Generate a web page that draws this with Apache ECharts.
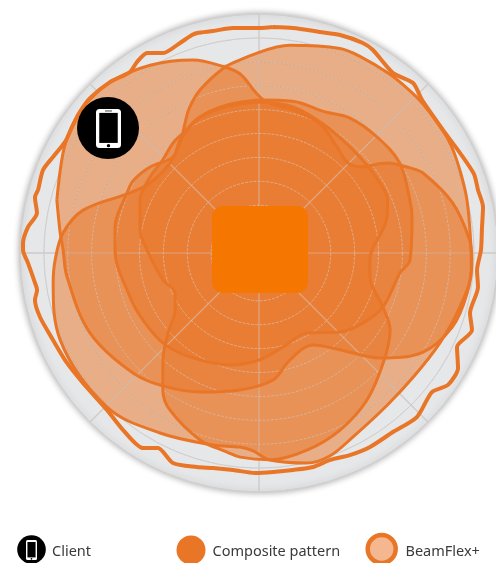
<!DOCTYPE html>
<html><head><meta charset="utf-8">
<style>html,body{margin:0;padding:0;background:#fff}#c{width:496px;height:563px}</style>
<script src="https://cdn.jsdelivr.net/npm/echarts@6/dist/echarts.min.js"></script>
</head><body><div id="c"></div>
<script>
// [angle in degrees counter-clockwise from east, gain]
const beamA = [[165.3,209],[153,220],[147,225],[140.8,228.5],[131.2,226.5],[120.1,217],[108.9,204],[100.9,190],[96,180],[91,160],[87,151],[76.6,147],[64.9,143],[53.7,131.6],[45.6,126.5],[40.4,133],[35.1,156.5],[29.4,173.3],[26,182.5],[14.5,200],[3.5,211],[358,213],[349,212],[339,207],[328.6,191],[319,160],[309.9,126],[300.4,106.7],[286,111.4],[276.3,127.8],[262,138.3],[247,151],[235.5,162.5],[223.6,174],[205.3,187],[187,193.5],[179,196],[174,200],[165.3,209]];
const beamB = [[95.6,194],[81.5,210],[68.4,220],[62.7,221],[54,221.5],[47.6,221.5],[42.4,221.5],[34.6,221],[28.8,220],[21.7,217],[14.3,214.6],[3.5,212],[355.5,213],[345,208],[333.6,202],[321.2,198],[310,199],[297,206.6],[289.2,215],[282.9,215.5],[273,207.3],[268.3,198],[264.4,195],[256.5,197.4],[241.2,205.4],[225.4,216.4],[203.6,217],[188.3,208],[182,204],[174.2,197],[166.3,181],[155,142.3],[147.3,129.5],[134.7,126.6],[125.7,135.4],[119.6,149.6],[115.9,160.3],[109.9,173.3],[101,188],[95.6,194]];
const beamC = [[90,151],[76.9,150],[61.6,143.2],[43.5,139.3],[30,139.8],[22.3,139],[15.7,133],[356.4,111.2],[347.8,113.6],[336.5,135],[329.6,152],[319.2,165],[306.3,182.4],[294.6,194.7],[283.7,202.8],[273,207],[264.7,205],[260.9,201.6],[252.5,196],[240.4,180.5],[234.9,167.3],[228.1,143.8],[221.3,121.2],[214.2,101.5],[205.5,93],[195.7,99.7],[178.5,112],[169,121.2],[156,130.3],[151.5,132],[145.1,132.9],[135.9,134],[128,139.6],[122.3,142],[113.5,148.2],[102,150],[90,151]];
const beamD = [[90,153],[77.5,155.5],[65.6,155.5],[56,162.8],[44.5,165.5],[32.6,167],[19.6,160],[13.2,157.2],[357.3,151.2],[352,142.4],[336.5,135.2],[326,125.4],[315.7,113],[301,93.3],[284.3,97],[270,107],[255.5,115.7],[236.4,124.8],[223.2,131.6],[210,134],[198.8,136.3],[178.8,144],[169.8,146.3],[155.6,145],[150,145],[141.7,138.8],[131.9,128.9],[124.9,137.9],[113.5,148.2],[102.2,151.4],[90,153]];
const composite = [[86.5,226.4],[89.7,225],[96.6,226.5],[101.7,226.7],[105.7,228.6],[107.1,228],[110.6,224.4],[115.6,221.8],[119.2,229.2],[122.6,226.6],[125.5,222.3],[131.1,226.8],[137.5,229.3],[141.8,228],[146,225.5],[150.2,223.5],[155,227.3],[159,231.4],[164.1,229.8],[166,230.9],[169.8,225.6],[173.6,232.5],[177.6,236.2],[179.3,236],[182.5,231.2],[187.6,226],[189.5,225],[191.8,228.9],[196.3,228.2],[202.9,223.6],[209.8,221.3],[216.5,218.8],[225.9,218.5],[232.5,223.2],[239.3,226.9],[242.6,219.6],[247.7,226.9],[253.8,222.8],[257.9,219.9],[263.2,218.6],[269,220],[273.7,219.4],[278.9,219.6],[284.2,220.7],[289,218.8],[294.2,221.6],[299.8,223.5],[306.8,223.6],[313.9,227.7],[321.2,221.9],[325.1,230.5],[330,229.8],[334.6,219.2],[340.1,226.5],[344.1,219.4],[351.2,221.6],[355.5,218.7],[0.8,222],[6.6,224.5],[11.6,228.7],[16,227.9],[20.2,229],[26.5,224.5],[33.8,221.3],[43.2,223.6],[47.8,229.4],[53.3,224.4],[60.7,232.8],[63.7,234.3],[69.6,232.6],[74.6,229.3],[81.4,227.6],[86.5,226.4]];
const beams = [beamA, beamB, beamC, beamD];
const legendLabels = ['Client', 'Composite pattern', 'BeamFlex+'];
const toPolar = d => d.map(p => [p[1], p[0]]); // ECharts polar order: radius, angle

const ORANGE = '#e97527';
const chart = echarts.init(document.getElementById('c'), null, {renderer:'canvas'});
const series = [];
beams.forEach(d=>series.push({type:'line',coordinateSystem:'polar',polarIndex:0,data:toPolar(d),smooth:0.35,showSymbol:false,silent:true,clip:false,z:2,
  lineStyle:{width:0,color:'transparent'},areaStyle:{color:'rgba(233,117,39,0.5)',opacity:1}}));
beams.forEach(d=>series.push({type:'line',coordinateSystem:'polar',polarIndex:0,data:toPolar(d),smooth:0.35,showSymbol:false,silent:true,clip:false,z:5,
  lineStyle:{width:3,color:ORANGE}}));
series.push({type:'line',coordinateSystem:'polar',polarIndex:0,data:toPolar(composite),smooth:0.25,showSymbol:false,silent:true,clip:false,z:6,
  lineStyle:{width:4,color:ORANGE,join:'round'}});

function phone(cx,cy,w,h,z,speaker){
  const els = [
   {type:'rect',z,shape:{x:cx-w/2,y:cy-h/2,width:w,height:h,r:w*0.14},style:{fill:'#fff'}},
   {type:'rect',z:z+1,shape:{x:cx-w/2+w*0.13,y:cy-h/2+h*0.1,width:w*0.74,height:h*0.77},style:{fill:'#000'}},
   {type:'circle',z:z+1,shape:{cx,cy:cy+h/2-h*0.06,r:w*0.06+0.2},style:{fill:'#000'}}
  ];
  if (speaker) els.push({type:'rect',z:z+1,shape:{x:cx-w*0.14,y:cy-h/2+h*0.03,width:w*0.28,height:h*0.04},style:{fill:'#888'}});
  return els;
}
const graphic = [
 {type:'circle',z:-10,shape:{cx:259,cy:253,r:239},style:{fill:'#e6e7e9',stroke:'#d2d4d6',lineWidth:1,shadowBlur:7,shadowColor:'rgba(0,0,0,0.35)'}},
 {type:'rect',z:20,shape:{x:212,y:206,width:96,height:87,r:11},style:{fill:'#f57600'}},
 {type:'circle',z:20,shape:{cx:108,cy:128,r:31},style:{fill:'#000'}},
 ...phone(108.5,128.5,25,39,21,true),
 {type:'circle',z:20,shape:{cx:31.5,cy:549.5,r:14.3},style:{fill:'#000'}},
 ...phone(31.5,550,11,20,21,false),
 {type:'circle',z:20,shape:{cx:191,cy:550,r:14.5},style:{fill:ORANGE}},
 {type:'circle',z:20,shape:{cx:381.7,cy:549,r:14},style:{fill:'#f4b78f',stroke:ORANGE,lineWidth:4.5}},
];
[[52,0],[212.5,1],[405.5,2]].forEach(([x,i])=>graphic.push({type:'text',z:20,x,y:552,style:{text:legendLabels[i],fill:'#3a3a3c',font:'14.5px "Noto Sans"',verticalAlign:'middle'}}));

const hidden = {axisLine:{show:false},axisTick:{show:false},axisLabel:{show:false}};
const spokes = {type:'value',min:0,max:360,interval:45,startAngle:0,clockwise:false,...hidden};
const rings = {type:'value',min:0,max:239,interval:23.9,...hidden};
chart.setOption({
  animation:false,
  polar:[{center:[259,253],radius:239},{center:[259,253],radius:239}],
  angleAxis:[
    {...spokes,polarIndex:0,z:0,splitLine:{show:true,lineStyle:{color:'#cdcfd1',width:1.3}}},
    {...spokes,polarIndex:1,z:3,splitLine:{show:true,lineStyle:{color:'rgba(215,203,195,0.55)',width:1.2}}}
  ],
  radiusAxis:[
    {...rings,polarIndex:0,z:0,splitLine:{show:true,lineStyle:{color:'#cdcfd1',width:1}}},
    {...rings,polarIndex:1,z:3,splitLine:{show:true,lineStyle:{color:'rgba(215,203,195,0.6)',width:1,type:[3,1.2]}}}
  ],
  graphic:{elements:graphic},
  series
});
</script></body></html>
